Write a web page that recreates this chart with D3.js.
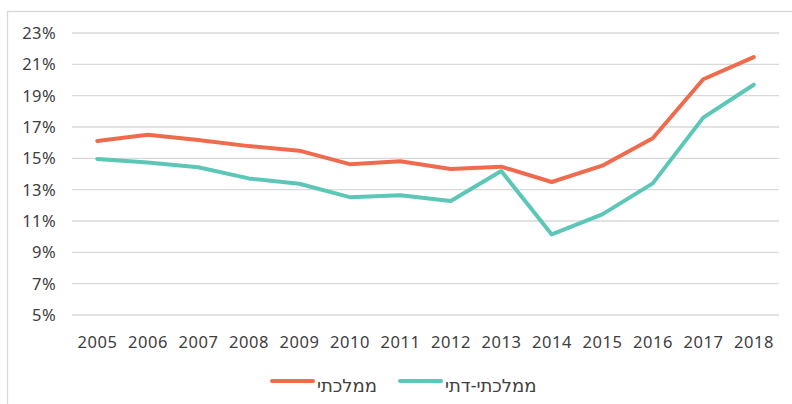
<!DOCTYPE html>
<html>
<head>
<meta charset="utf-8">
<script src="https://cdn.jsdelivr.net/npm/d3@7"></script>
<style>
  body { margin: 0; background: #fff; }
  text { font-family: "Noto Sans", "DejaVu Sans", sans-serif; fill: #404040; }
</style>
</head>
<body>
<svg id="chart" width="792" height="404"></svg>
<script>
const years = [2005, 2006, 2007, 2008, 2009, 2010, 2011, 2012, 2013, 2014, 2015, 2016, 2017, 2018];
const mamlachti = [16.1, 16.5, 16.17, 15.78, 15.49, 14.63, 14.82, 14.32, 14.47, 13.49, 14.53, 16.28, 20.05, 21.46];
const mamlachtiDati = [14.96, 14.73, 14.43, 13.72, 13.38, 12.52, 12.64, 12.28, 14.19, 10.14, 11.42, 13.4, 17.6, 19.7];
const yTicks = [5, 7, 9, 11, 13, 15, 17, 19, 21, 23];
const seriesNames = ["ממלכתי", "ממלכתי-דתי"];
const seriesColors = ["#ef6b4d", "#5cc7b6"];

const svg = d3.select("#chart");

// outer frame, cut off at right and bottom like the source
svg.append("rect")
  .attr("x", 7.5).attr("y", 11.5)
  .attr("width", 820).attr("height", 420)
  .attr("fill", "none")
  .attr("stroke", "#d9d9d9")
  .attr("stroke-width", 1.3);

const x = d3.scaleBand().domain(years).range([72, 779]);
const y = d3.scaleLinear().domain([5, 23]).range([315, 33]);

// gridlines
svg.append("g")
  .selectAll("line")
  .data(yTicks)
  .enter()
  .append("line")
  .attr("x1", 72).attr("x2", 779)
  .attr("y1", (d) => y(d)).attr("y2", (d) => y(d))
  .attr("stroke", "#d9d9d9")
  .attr("stroke-width", 1.3);

// y labels
svg.append("g")
  .selectAll("text")
  .data(yTicks)
  .enter()
  .append("text")
  .attr("x", 56)
  .attr("y", (d) => y(d))
  .attr("dy", "0.36em")
  .attr("text-anchor", "end")
  .attr("font-size", 16.5)
  .attr("letter-spacing", 0.4)
  .text((d) => d + "%");

// x labels
svg.append("g")
  .selectAll("text")
  .data(years)
  .enter()
  .append("text")
  .attr("x", (d) => x(d) + x.bandwidth() / 2 + 0.3)
  .attr("y", 348)
  .attr("text-anchor", "middle")
  .attr("font-size", 16.5)
  .attr("letter-spacing", 0.6)
  .text((d) => d);

const line = d3.line()
  .x((d, i) => x(years[i]) + x.bandwidth() / 2)
  .y((d) => y(d));

[mamlachti, mamlachtiDati].forEach((vals, i) => {
  svg.append("path")
    .datum(vals)
    .attr("d", line)
    .attr("fill", "none")
    .attr("stroke", seriesColors[i])
    .attr("stroke-width", 4)
    .attr("stroke-linecap", "round")
    .attr("stroke-linejoin", "round");
});

// legend
const legendX = [272, 400];
const legend = svg.append("g")
  .selectAll("g")
  .data(seriesNames)
  .enter()
  .append("g");

legend.append("line")
  .attr("x1", (d, i) => legendX[i])
  .attr("x2", (d, i) => legendX[i] + 41)
  .attr("y1", 381).attr("y2", 381)
  .attr("stroke", (d, i) => seriesColors[i])
  .attr("stroke-width", 4)
  .attr("stroke-linecap", "round");

legend.append("text")
  .attr("x", (d, i) => legendX[i] + 45)
  .attr("y", 392)
  .attr("font-size", 18)
  .attr("text-anchor", "start")
  .text((d) => d);
</script>
</body>
</html>
